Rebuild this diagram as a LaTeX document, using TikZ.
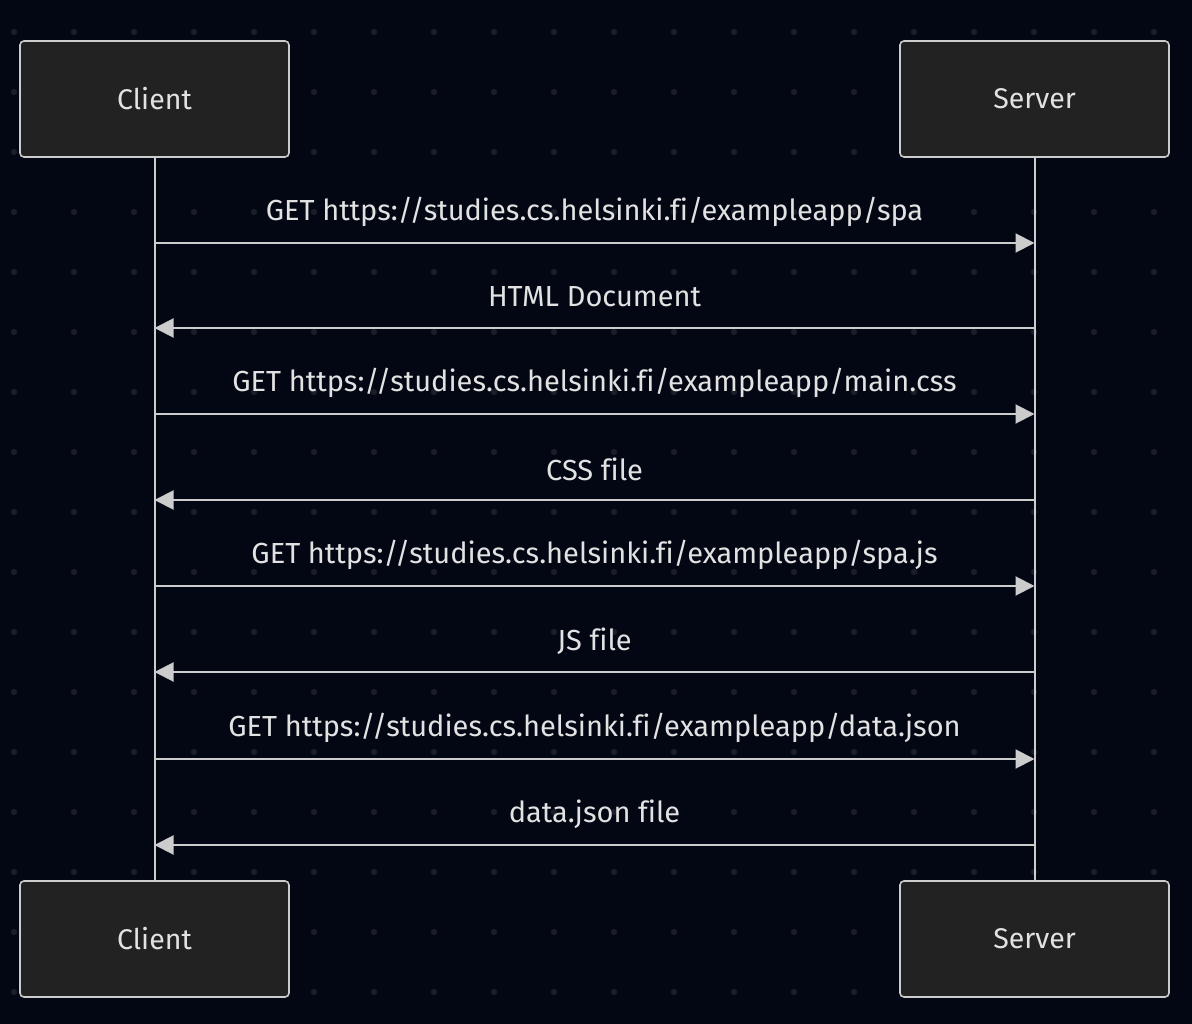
\documentclass[tikz,border=0pt]{standalone}
\usepackage{fontspec}
\setmainfont[Ligatures={NoCommon}]{Fira Sans}
\usetikzlibrary{arrows.meta}
\usetikzlibrary{calc}
\definecolor{hintergrund}{RGB}{3,7,20}
\definecolor{punkt}{RGB}{27,30,40}
\definecolor{linie}{RGB}{204,204,204}
\definecolor{kasten}{RGB}{34,34,34}
\definecolor{schrift}{RGB}{226,226,226}
\tikzset{
    akteur/.style = {draw=linie, fill=kasten, line width=1.6pt, rounded corners=4pt,
        minimum width=269pt, minimum height=116pt, text=schrift,
        font=\fontsize{28.5}{32}\selectfont},
    lebenslinie/.style = {linie, line width=2pt},
    nachricht/.style = {linie, line width=2pt},
    beschriftung/.style = {text=schrift, font=\fontsize{29}{33}\selectfont, inner sep=0pt},
    spitze/.style = {-{Triangle[length=19pt, width=19pt]}},
    spitzelinks/.style = {{Triangle[length=19pt, width=19pt]}-},
}
\newcommand{\sendmsg}[4]{
    % #1 = name
    % #2 = hoehe (y)
    % #3 = pfeilrichtung
    % #4 = text
    \coordinate (#1c) at (clienttop.center |- 0,#2);
    \coordinate (#1s) at (servertop.center |- 0,#2);
    \draw[nachricht, #3] (#1c) -- (#1s);
    \node[beschriftung] (#1label) at ($(#1c)!0.5!(#1s) + (0,-31)$) {#4};
}

\begin{document}
\begin{tikzpicture}[x=1pt, y=-1pt]

    \useasboundingbox[fill=hintergrund] (0,0) rectangle (1192,1024);

    \foreach \x in {14,74,...,1190} {
        \foreach \y in {32,92,...,1022} {
            \fill[punkt] (\x,\y) circle (3.2pt);
        }
    }

    \node[akteur] (clienttop) at (154.5,99) {Client};
    \node[akteur] (servertop) at (1034.5,99) {Server};
    \node[akteur] (clientbot) at (154.5,939) {Client};
    \node[akteur] (serverbot) at (1034.5,939) {Server};

    \draw[lebenslinie] (clienttop) -- (clientbot);
    \draw[lebenslinie] (servertop) -- (serverbot);

    \sendmsg{m1}{243}{spitze}{GET https://studies.cs.helsinki.fi/exampleapp/spa}
    \sendmsg{m2}{328}{spitzelinks}{HTML Document}
    \sendmsg{m3}{414}{spitze}{GET https://studies.cs.helsinki.fi/exampleapp/main.css}
    \sendmsg{m4}{500}{spitzelinks}{CSS file}
    \sendmsg{m5}{586}{spitze}{GET https://studies.cs.helsinki.fi/exampleapp/spa.js}
    \sendmsg{m6}{672}{spitzelinks}{JS file}
    \sendmsg{m7}{759}{spitze}{GET https://studies.cs.helsinki.fi/exampleapp/data.json}
    \sendmsg{m8}{845}{spitzelinks}{data.json file}

\end{tikzpicture}
\end{document}
